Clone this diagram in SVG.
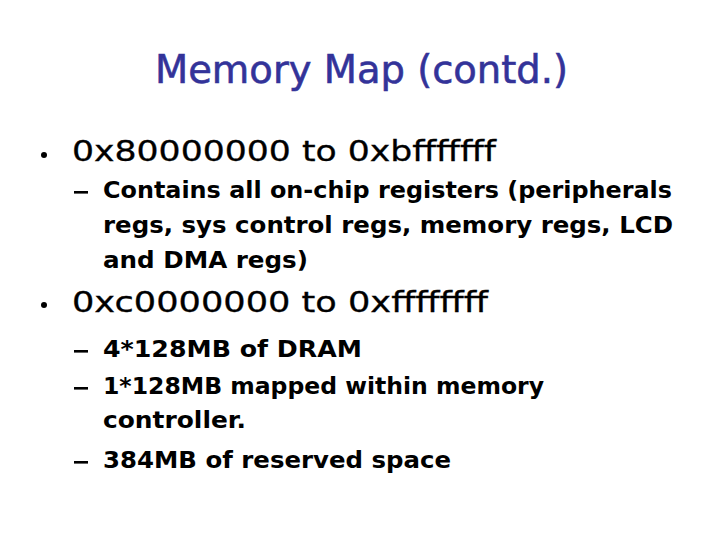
<svg xmlns="http://www.w3.org/2000/svg" width="720" height="540" viewBox="0 0 720 540">
<style>
text{font-family:"Comic Sans MS","DejaVu Sans","Liberation Sans",sans-serif;fill:#000}
.t{font-size:39px;fill:#333399;stroke:#333399;stroke-width:0.6}
.b{font-size:28px;stroke:#000;stroke-width:0.3}
.s{font-size:23px;font-weight:bold}
</style>
<rect width="720" height="540" fill="#fff"/>
<g id="title"><text class="t" x="155" y="83" textLength="413" lengthAdjust="spacingAndGlyphs">Memory Map (contd.)</text></g>
<g id="bullet1">
<circle cx="44" cy="155" r="3" fill="#000"/>
<text class="b" x="72" y="161" textLength="424" lengthAdjust="spacingAndGlyphs">0x80000000 to 0xbfffffff</text>
<rect x="74" y="191" width="14" height="2.6" fill="#000"/>
<text class="s" x="103" y="198" textLength="569" lengthAdjust="spacingAndGlyphs">Contains all on-chip registers (peripherals</text>
<text class="s" x="103" y="233" textLength="570" lengthAdjust="spacingAndGlyphs">regs, sys control regs, memory regs, LCD</text>
<text class="s" x="103" y="268" textLength="205" lengthAdjust="spacingAndGlyphs">and DMA regs)</text>
</g>
<g id="bullet2">
<circle cx="44" cy="305" r="3" fill="#000"/>
<text class="b" x="72" y="312" textLength="416" lengthAdjust="spacingAndGlyphs">0xc0000000 to 0xffffffff</text>
<rect x="74" y="350" width="14" height="2.6" fill="#000"/>
<text class="s" x="103" y="357" textLength="259" lengthAdjust="spacingAndGlyphs">4*128MB of DRAM</text>
<rect x="74" y="387" width="14" height="2.6" fill="#000"/>
<text class="s" x="103" y="394" textLength="441" lengthAdjust="spacingAndGlyphs">1*128MB mapped within memory</text>
<text class="s" x="103" y="428" textLength="143" lengthAdjust="spacingAndGlyphs">controller.</text>
<rect x="74" y="461" width="14" height="2.6" fill="#000"/>
<text class="s" x="103" y="468" textLength="348" lengthAdjust="spacingAndGlyphs">384MB of reserved space</text>
</g>
</svg>
